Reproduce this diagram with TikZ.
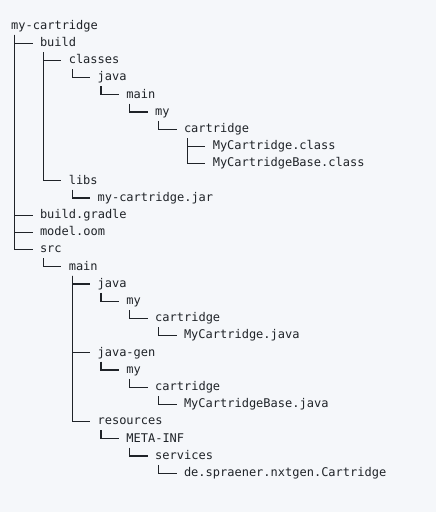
\documentclass[tikz,border=0pt]{standalone}
\usepackage{fontspec}
\setmonofont{DejaVu Sans Mono}
\usepackage{tikz}
\usetikzlibrary{positioning}
\definecolor{paper}{HTML}{F5F7FA}
\definecolor{ink}{HTML}{1F2328}
\tikzset{
  entry/.style  = {anchor=west, inner sep=0pt, minimum height=17.2pt,
                   text height=9pt, text depth=2.5pt, text=ink,
                   font=\ttfamily\fontsize{12pt}{14pt}\selectfont},
  branch/.style = {draw=ink, line width=1.2pt},
}
\newcommand{\fromdir}[1]{([xshift=3.6pt]#1.south west)}
\newcommand{\todir}[1]{([xshift=-7.2pt]#1.west)}

\begin{document}
\begin{tikzpicture}[x=28.8pt, y=17.2pt]

  \fill[paper] (-11pt,26pt) rectangle (425pt,-486pt);
  \useasboundingbox (-11pt,26pt) rectangle (425pt,-486pt);

  \node[entry] (root)     at (0,0)   {my-cartridge};
  \node[entry] (build)    at (1,-1)  {build};
  \node[entry] (classes)  at (2,-2)  {classes};
  \node[entry] (cjava)    at (3,-3)  {java};
  \node[entry] (cmain)    at (4,-4)  {main};
  \node[entry] (cmy)      at (5,-5)  {my};
  \node[entry] (ccart)    at (6,-6)  {cartridge};
  \node[entry] (mcclass)  at (7,-7)  {MyCartridge.class};
  \node[entry] (mcbclass) at (7,-8)  {MyCartridgeBase.class};
  \node[entry] (libs)     at (2,-9)  {libs};
  \node[entry] (jar)      at (3,-10) {my-cartridge.jar};
  \node[entry] (gradle)   at (1,-11) {build.gradle};
  \node[entry] (oom)      at (1,-12) {model.oom};
  \node[entry] (src)      at (1,-13) {src};
  \node[entry] (smain)    at (2,-14) {main};
  \node[entry] (sjava)    at (3,-15) {java};
  \node[entry] (sjmy)     at (4,-16) {my};
  \node[entry] (sjcart)   at (5,-17) {cartridge};
  \node[entry] (mcjava)   at (6,-18) {MyCartridge.java};
  \node[entry] (jgen)     at (3,-19) {java-gen};
  \node[entry] (jgmy)     at (4,-20) {my};
  \node[entry] (jgcart)   at (5,-21) {cartridge};
  \node[entry] (mcbjava)  at (6,-22) {MyCartridgeBase.java};
  \node[entry] (res)      at (3,-23) {resources};
  \node[entry] (meta)     at (4,-24) {META-INF};
  \node[entry] (services) at (5,-25) {services};
  \node[entry] (cartfile) at (6,-26) {de.spraener.nxtgen.Cartridge};

  \draw[branch] \fromdir{root} |- \todir{build};
  \draw[branch] \fromdir{root} |- \todir{gradle};
  \draw[branch] \fromdir{root} |- \todir{oom};
  \draw[branch] \fromdir{root} |- \todir{src};
  \draw[branch] \fromdir{build} |- \todir{classes};
  \draw[branch] \fromdir{build} |- \todir{libs};
  \draw[branch] \fromdir{classes} |- \todir{cjava};
  \draw[branch] \fromdir{cjava} |- \todir{cmain};
  \draw[branch] \fromdir{cmain} |- \todir{cmy};
  \draw[branch] \fromdir{cmy} |- \todir{ccart};
  \draw[branch] \fromdir{ccart} |- \todir{mcclass};
  \draw[branch] \fromdir{ccart} |- \todir{mcbclass};
  \draw[branch] \fromdir{libs} |- \todir{jar};
  \draw[branch] \fromdir{src} |- \todir{smain};
  \draw[branch] \fromdir{smain} |- \todir{sjava};
  \draw[branch] \fromdir{smain} |- \todir{jgen};
  \draw[branch] \fromdir{smain} |- \todir{res};
  \draw[branch] \fromdir{sjava} |- \todir{sjmy};
  \draw[branch] \fromdir{sjmy} |- \todir{sjcart};
  \draw[branch] \fromdir{sjcart} |- \todir{mcjava};
  \draw[branch] \fromdir{jgen} |- \todir{jgmy};
  \draw[branch] \fromdir{jgmy} |- \todir{jgcart};
  \draw[branch] \fromdir{jgcart} |- \todir{mcbjava};
  \draw[branch] \fromdir{res} |- \todir{meta};
  \draw[branch] \fromdir{meta} |- \todir{services};
  \draw[branch] \fromdir{services} |- \todir{cartfile};

\end{tikzpicture}
\end{document}
